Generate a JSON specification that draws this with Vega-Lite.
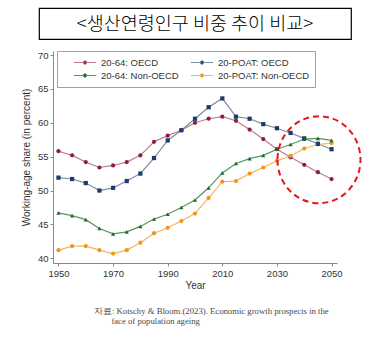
{
  "$schema": "https://vega.github.io/schema/vega-lite/v6.json",
  "padding": {"left": 21, "top": 7, "right": 5, "bottom": 5},
  "background": "white",
  "spacing": 12,
  "bounds": "flush",
  "center": true,
  "config": {
    "font": "Liberation Sans",
    "view": {"stroke": null},
    "axis": {
      "domainColor": "#8a8a8a",
      "tickColor": "#8a8a8a",
      "tickSize": 3,
      "labelFontSize": 9.5,
      "labelColor": "#333333",
      "titleFontSize": 10,
      "titleFontWeight": "normal",
      "titleColor": "#333333",
      "grid": false
    },
    "legend": {
      "title": null, "orient": "none", "legendX": 18, "legendY": 43, "columns": 2, "direction": "horizontal",
      "symbolType": "M-1,0L-0.16,0M0.16,0L1,0M-0.16,0A0.16,0.16,0,1,1,0.16,0A0.16,0.16,0,1,1,-0.16,0Z",
      "symbolSize": 500, "clipHeight": 13, "symbolStrokeWidth": 1, "symbolOffset": 11,
      "labelFontSize": 9.5, "labelColor": "#333333", "labelOffset": 4, "columnPadding": 0, "rowPadding": 0,
      "padding": 5, "strokeColor": "#a0a0a0", "fillColor": "white", "cornerRadius": 0
    }
  },
  "vconcat": [
    {
      "width": 312,
      "height": 31,
      "view": {"stroke": "black", "strokeWidth": 1.2},
      "data": {"values": [{"t": "<생산연령인구 비중 추이 비교>"}]},
      "mark": {"type": "text", "font": "Noto Sans CJK KR", "fontSize": 18.5, "fontWeight": 300, "color": "black", "baseline": "middle"},
      "encoding": {"text": {"field": "t"}}
    },
    {
      "width": 284,
      "height": 212,
      "title": {
        "text": ["자료: Kotschy & Bloom.(2023). Economic growth prospects in the", "\u200b\u00a0\u00a0\u00a0\u00a0\u00a0\u00a0\u00a0\u00a0face of population ageing"],
        "orient": "bottom",
        "anchor": "start",
        "frame": "group",
        "dx": 41,
        "offset": 16,
        "font": "Liberation Serif",
        "fontSize": 8.7,
        "fontWeight": "normal",
        "color": "#4a4a4a",
        "lineHeight": 10
      },
      "data": {"values": [
        {"year":1950,"series":"20-64: OECD","value":55.8},{"year":1955,"series":"20-64: OECD","value":55.2},{"year":1960,"series":"20-64: OECD","value":54.2},{"year":1965,"series":"20-64: OECD","value":53.4},{"year":1970,"series":"20-64: OECD","value":53.7},{"year":1975,"series":"20-64: OECD","value":54.2},{"year":1980,"series":"20-64: OECD","value":55.2},{"year":1985,"series":"20-64: OECD","value":57.2},{"year":1990,"series":"20-64: OECD","value":58.1},{"year":1995,"series":"20-64: OECD","value":58.9},{"year":2000,"series":"20-64: OECD","value":60.0},{"year":2005,"series":"20-64: OECD","value":60.6},{"year":2010,"series":"20-64: OECD","value":60.9},{"year":2015,"series":"20-64: OECD","value":60.3},{"year":2020,"series":"20-64: OECD","value":59.0},{"year":2025,"series":"20-64: OECD","value":57.6},{"year":2030,"series":"20-64: OECD","value":56.1},{"year":2035,"series":"20-64: OECD","value":54.9},{"year":2040,"series":"20-64: OECD","value":53.8},{"year":2045,"series":"20-64: OECD","value":52.7},{"year":2050,"series":"20-64: OECD","value":51.7},
        {"year":1950,"series":"20-POAT: OECD","value":51.9},{"year":1955,"series":"20-POAT: OECD","value":51.7},{"year":1960,"series":"20-POAT: OECD","value":51.1},{"year":1965,"series":"20-POAT: OECD","value":50.0},{"year":1970,"series":"20-POAT: OECD","value":50.4},{"year":1975,"series":"20-POAT: OECD","value":51.4},{"year":1980,"series":"20-POAT: OECD","value":52.5},{"year":1985,"series":"20-POAT: OECD","value":54.8},{"year":1990,"series":"20-POAT: OECD","value":57.4},{"year":1995,"series":"20-POAT: OECD","value":58.9},{"year":2000,"series":"20-POAT: OECD","value":60.6},{"year":2005,"series":"20-POAT: OECD","value":62.3},{"year":2010,"series":"20-POAT: OECD","value":63.6},{"year":2015,"series":"20-POAT: OECD","value":60.9},{"year":2020,"series":"20-POAT: OECD","value":60.6},{"year":2025,"series":"20-POAT: OECD","value":59.8},{"year":2030,"series":"20-POAT: OECD","value":59.2},{"year":2035,"series":"20-POAT: OECD","value":58.5},{"year":2040,"series":"20-POAT: OECD","value":57.7},{"year":2045,"series":"20-POAT: OECD","value":56.9},{"year":2050,"series":"20-POAT: OECD","value":56.1},
        {"year":1950,"series":"20-64: Non-OECD","value":46.7},{"year":1955,"series":"20-64: Non-OECD","value":46.3},{"year":1960,"series":"20-64: Non-OECD","value":45.7},{"year":1965,"series":"20-64: Non-OECD","value":44.4},{"year":1970,"series":"20-64: Non-OECD","value":43.6},{"year":1975,"series":"20-64: Non-OECD","value":43.9},{"year":1980,"series":"20-64: Non-OECD","value":44.7},{"year":1985,"series":"20-64: Non-OECD","value":45.8},{"year":1990,"series":"20-64: Non-OECD","value":46.5},{"year":1995,"series":"20-64: Non-OECD","value":47.5},{"year":2000,"series":"20-64: Non-OECD","value":48.6},{"year":2005,"series":"20-64: Non-OECD","value":50.4},{"year":2010,"series":"20-64: Non-OECD","value":52.6},{"year":2015,"series":"20-64: Non-OECD","value":54.0},{"year":2020,"series":"20-64: Non-OECD","value":54.7},{"year":2025,"series":"20-64: Non-OECD","value":55.2},{"year":2030,"series":"20-64: Non-OECD","value":56.1},{"year":2035,"series":"20-64: Non-OECD","value":56.8},{"year":2040,"series":"20-64: Non-OECD","value":57.6},{"year":2045,"series":"20-64: Non-OECD","value":57.7},{"year":2050,"series":"20-64: Non-OECD","value":57.4},
        {"year":1950,"series":"20-POAT: Non-OECD","value":41.2},{"year":1955,"series":"20-POAT: Non-OECD","value":41.8},{"year":1960,"series":"20-POAT: Non-OECD","value":41.8},{"year":1965,"series":"20-POAT: Non-OECD","value":41.2},{"year":1970,"series":"20-POAT: Non-OECD","value":40.7},{"year":1975,"series":"20-POAT: Non-OECD","value":41.2},{"year":1980,"series":"20-POAT: Non-OECD","value":42.3},{"year":1985,"series":"20-POAT: Non-OECD","value":43.7},{"year":1990,"series":"20-POAT: Non-OECD","value":44.5},{"year":1995,"series":"20-POAT: Non-OECD","value":45.5},{"year":2000,"series":"20-POAT: Non-OECD","value":46.6},{"year":2005,"series":"20-POAT: Non-OECD","value":48.9},{"year":2010,"series":"20-POAT: Non-OECD","value":51.3},{"year":2015,"series":"20-POAT: Non-OECD","value":51.4},{"year":2020,"series":"20-POAT: Non-OECD","value":52.5},{"year":2025,"series":"20-POAT: Non-OECD","value":53.4},{"year":2030,"series":"20-POAT: Non-OECD","value":54.4},{"year":2035,"series":"20-POAT: Non-OECD","value":55.1},{"year":2040,"series":"20-POAT: Non-OECD","value":56.2},{"year":2045,"series":"20-POAT: Non-OECD","value":56.8},{"year":2050,"series":"20-POAT: Non-OECD","value":57.0}
      ]},
      "encoding": {
        "x": {"field": "year", "type": "quantitative", "title": "Year",
              "scale": {"domain": [1948, 2052], "nice": false, "zero": false},
              "axis": {"values": [1950, 1970, 1990, 2010, 2030, 2050], "format": "d", "labelFlush": false, "titlePadding": 3}},
        "y": {"field": "value", "type": "quantitative", "title": "Working-age share (in percent)",
              "scale": {"domain": [39.3, 70.6], "nice": false, "zero": false},
              "axis": {"values": [40, 45, 50, 55, 60, 65, 70], "labelFlush": false, "titlePadding": 6}}
      },
      "layer": [
        {
          "mark": {"type": "line", "strokeWidth": 1.2},
          "encoding": {
            "stroke": {"field": "series", "type": "nominal",
              "scale": {"domain": ["20-64: OECD", "20-POAT: OECD", "20-64: Non-OECD", "20-POAT: Non-OECD"],
                        "range": ["#bd7d8c", "#7d8fa6", "#52995d", "#f2b55c"]}}
          }
        },
        {
          "transform": [{"filter": {"field": "series", "oneOf": ["20-64: OECD", "20-POAT: Non-OECD"]}}],
          "mark": {"type": "point", "filled": true, "size": 18, "opacity": 1, "shape": "circle"},
          "encoding": {
            "fill": {"field": "series", "type": "nominal",
              "scale": {"domain": ["20-64: OECD", "20-POAT: OECD", "20-64: Non-OECD", "20-POAT: Non-OECD"],
                        "range": ["#8a1f40", "#1d3c6e", "#1e6a2c", "#f0961f"]}}
          }
        },
        {
          "transform": [{"filter": {"field": "series", "equal": "20-POAT: OECD"}}],
          "mark": {"type": "point", "filled": true, "size": 18, "opacity": 1, "shape": "square"},
          "encoding": {
            "fill": {"field": "series", "type": "nominal"}
          }
        },
        {
          "transform": [{"filter": {"field": "series", "equal": "20-64: Non-OECD"}}],
          "mark": {"type": "point", "filled": true, "size": 18, "opacity": 1, "shape": "triangle-up"},
          "encoding": {
            "fill": {"field": "series", "type": "nominal"}
          }
        },
        {
          "data": {"values": [{"year": 2045.4, "value": 54.55}]},
          "mark": {"type": "point", "shape": "M-0.954,0A0.954,1,0,1,0,0.954,0A0.954,1,0,1,0,-0.954,0Z",
                   "size": 7569, "filled": false, "stroke": "#e3161d", "strokeWidth": 2, "strokeDash": [6, 4], "opacity": 1},
          "encoding": {
            "x": {"field": "year", "type": "quantitative"},
            "y": {"field": "value", "type": "quantitative"}
          }
        }
      ]
    }
  ]
}
